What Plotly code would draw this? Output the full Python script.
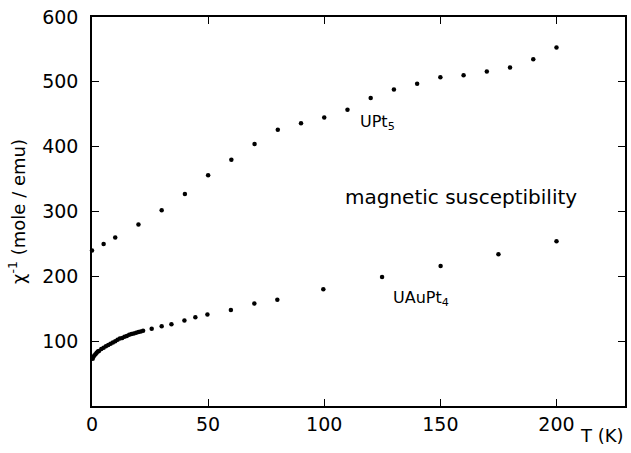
import plotly.graph_objects as go

# UPt5 data
upt5_T = [0, 5, 10, 20, 30, 40, 50, 60, 70, 80, 90, 100, 110, 120, 130, 140, 150, 160, 170, 180, 190, 200]
upt5_chi_inv = [240, 250, 260, 280, 302, 327, 356, 380, 404, 426, 436, 445, 457, 475, 488, 497, 507, 510, 516, 522, 535, 553]

# UAuPt4 data
uaupt4_T = [0.3, 0.6, 1, 1.5, 2, 2.5, 3, 4, 5, 6, 7, 8, 9, 10, 11, 12, 13, 14, 15, 16, 17, 18, 19, 20, 21, 22,
            25.7, 30, 34.2, 39.8, 44.5, 49.7, 59.8, 69.9, 79.8, 99.6, 124.9, 150.1, 175, 200]
uaupt4_chi_inv = [73, 76, 78, 80, 82, 84, 85, 88, 90, 92, 94, 96, 98, 100, 102, 104, 105, 107, 108, 110, 111, 112, 113, 114, 115, 116,
                  119, 123, 126, 132, 137, 141, 148, 158, 164, 180, 199, 216, 234, 254]

x_ticks = [0, 50, 100, 150, 200]
y_ticks = [100, 200, 300, 400, 500, 600]

font_family = "DejaVu Sans, Verdana, sans-serif"

fig = go.Figure()
fig.add_trace(go.Scatter(x=upt5_T, y=upt5_chi_inv, mode="markers",
                         marker=dict(color="black", size=4.5), name="UPt5", cliponaxis=False))
fig.add_trace(go.Scatter(x=uaupt4_T, y=uaupt4_chi_inv, mode="markers",
                         marker=dict(color="black", size=4.5), name="UAuPt4", cliponaxis=False))

fig.add_annotation(x=123, y=437, text="UPt<sub>5</sub>", showarrow=False, xanchor="center", yanchor="middle",
                   font=dict(size=16, color="black", family=font_family))
fig.add_annotation(x=158.9, y=323, text="magnetic susceptibility", showarrow=False, xanchor="center", yanchor="middle",
                   font=dict(size=20, color="black", family=font_family))
fig.add_annotation(x=141.8, y=166, text="UAuPt<sub>4</sub>", showarrow=False, xanchor="center", yanchor="middle",
                   font=dict(size=16, color="black", family=font_family))
fig.add_annotation(x=219.6, xref="x", y=-0.075, yref="paper", text="T (K)", showarrow=False,
                   xanchor="center", yanchor="middle", font=dict(size=18, color="black", family=font_family))

fig.update_layout(
    width=631, height=453,
    margin=dict(l=92, r=6, t=17, b=47, autoexpand=False),
    plot_bgcolor="white", paper_bgcolor="white",
    showlegend=False,
    font=dict(family=font_family, color="black"),
    xaxis=dict(range=[0, 229.5], tickvals=x_ticks, ticks="inside", ticklen=7, tickwidth=1.3,
               tickcolor="black", showline=True, linecolor="black", linewidth=1.5, mirror="ticks",
               showgrid=False, zeroline=False, tickfont=dict(size=19), ticklabelstandoff=0,
               automargin=False),
    yaxis=dict(range=[0, 600], tickvals=y_ticks, ticks="inside", ticklen=7, tickwidth=1.3,
               tickcolor="black", showline=True, linecolor="black", linewidth=1.5, mirror="ticks",
               showgrid=False, zeroline=False, tickfont=dict(size=19), ticklabelstandoff=8,
               ticklabeloverflow="allow", automargin=False,
               title=dict(text="χ<sup>-1</sup> (mole / emu)", font=dict(size=18), standoff=12)),
)

# remove the default 8px page margin so the figure sits at the window's top-left corner
fig.write_html("out.html", config={"displayModeBar": False},
               post_script="document.body.style.margin='0';")
